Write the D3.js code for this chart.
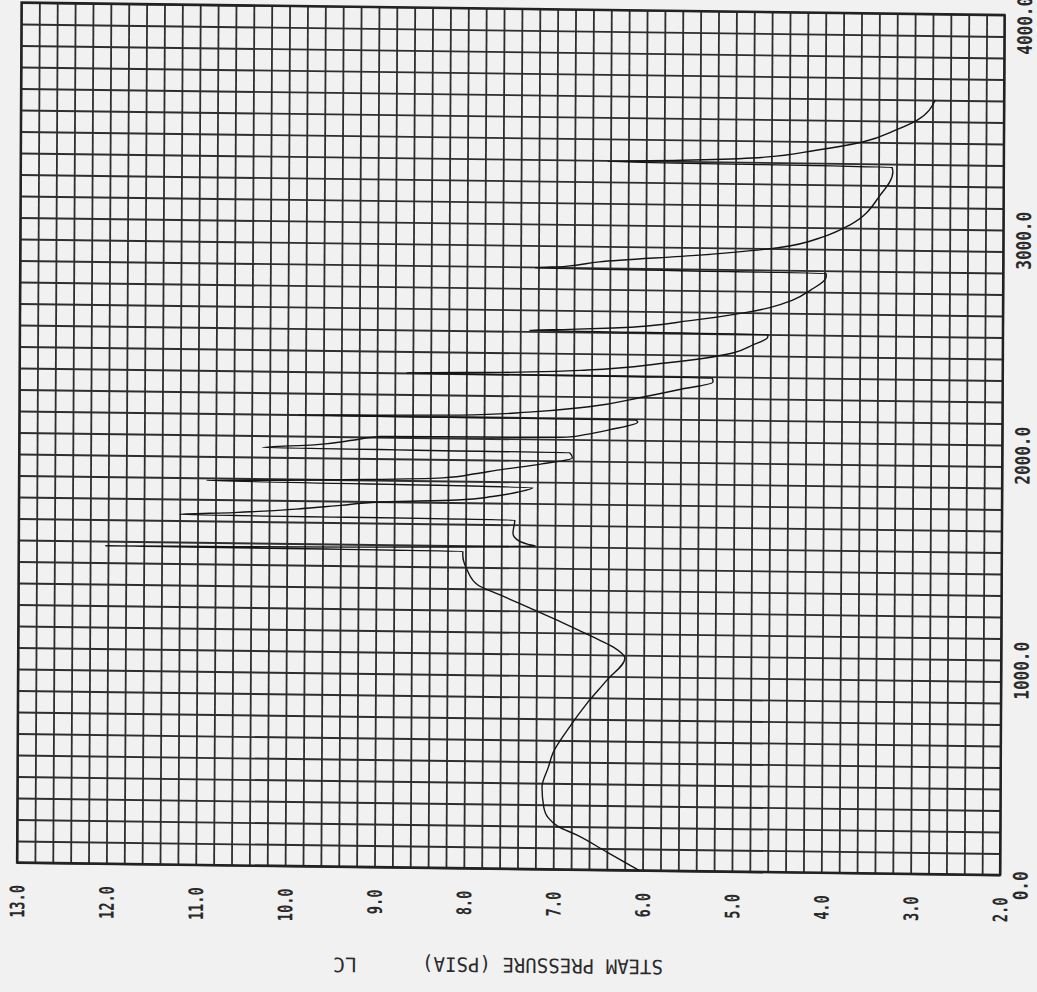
<!DOCTYPE html>
<html><head><meta charset="utf-8">
<script src="https://cdn.jsdelivr.net/npm/d3@7"></script>
<style>
html,body{margin:0;padding:0;background:#f1f1f1;}
svg{display:block;}
</style></head>
<body>
<svg id="chart" width="1037" height="992"></svg>
<script>
// Axis ticks and labels
const pressureTicks = [13, 12, 11, 10, 9, 8, 7, 6, 5, 4, 3, 2];
const pressureLabels = ["13.0","12.0","11.0","10.0","9.0","8.0","7.0","6.0","5.0","4.0","3.0","2.0"];
const timeTicks = [0, 1000, 2000, 3000, 4000];
const timeLabels = ["0.0","1000.0","2000.0","3000.0","4000.0"];
const axisTitle = "STEAM PRESSURE (PSIA)";
const caseTag = "LC";

// Series: time (s) and steam pressure (psia)
const timeSec = [
  0, 83, 161, 200, 240, 290, 382, 475, 541, 648, 775, 883, 987, 1037, 1083, 1146, 1214, 1273, 1318, 1387, 1456, 1474,
  1478, 1482, 1487, 1493, 1499, 1503, 1510, 1530, 1561, 1622,
  1628, 1640, 1660, 1680, 1698, 1712, 1730, 1752, 1774,
  1788, 1794, 1802, 1814, 1835, 1853, 1885, 1914, 1938,
  1944, 1960, 1985, 2003, 2006, 2011, 2025, 2047, 2085, 2094,
  2098, 2102, 2107, 2125, 2152, 2202, 2240, 2276, 2294,
  2300, 2308, 2316, 2324, 2360, 2412, 2450, 2488, 2500,
  2505, 2512, 2521, 2560, 2599, 2624, 2660, 2710, 2771, 2788,
  2795, 2805, 2828, 2865, 2904, 2960, 3014, 3155, 3263, 3285,
  3295, 3305, 3320, 3360, 3401, 3460, 3506, 3600
];
const steamPsia = [
  6.04, 6.40, 6.74, 6.95, 7.06, 7.11, 7.13, 7.06, 7.01, 6.85, 6.63, 6.41, 6.21, 6.34, 6.57, 6.90, 7.28, 7.61, 7.86, 7.98, 8.03, 8.03,
  12.03, 10.6, 9.2, 8.1, 7.45, 7.22, 7.30, 7.42, 7.47, 7.45,
  11.20, 10.6, 9.9, 9.4, 8.96, 8.1, 7.7, 7.42, 7.25,
  10.90, 10.0, 9.1, 8.26, 7.9, 7.65, 7.15, 6.81, 6.84,
  10.28, 9.7, 9.25, 8.96, 7.84, 6.87, 6.65, 6.40, 6.08, 6.10,
  9.88, 9.0, 8.07, 7.3, 6.65, 6.02, 5.6, 5.24, 5.25,
  8.67, 7.6, 7.0, 6.65, 5.8, 5.02, 4.8, 4.63, 4.63,
  7.30, 6.85, 6.36, 5.5, 4.90, 4.62, 4.36, 4.15, 3.98, 3.98,
  7.24, 6.9, 6.52, 5.4, 4.52, 4.0, 3.72, 3.38, 3.24, 3.25,
  6.43, 5.6, 4.81, 4.1, 3.58, 3.2, 2.97, 2.77
];

const W = 983, H = 860;
const svg = d3.select("#chart");
svg.append("rect").attr("width", 1037).attr("height", 992).attr("fill", "#f1f1f1");

// the scanned page is slightly skewed
const g = svg.append("g").attr("transform", "matrix(1,0.0127,-0.0052,1,21.5,2.5)");

const x = d3.scaleLinear().domain([13, 2]).range([0, W]);
const y = d3.scaleLinear().domain([0, 4000]).range([H, 0]);

// grid
g.append("g").attr("class", "grid").attr("transform", `translate(0,${H})`)
  .call(d3.axisBottom(x).ticks(55).tickSize(-H).tickFormat(""))
  .call(s => s.select(".domain").remove());
g.append("g").attr("class", "grid")
  .call(d3.axisLeft(y).ticks(40).tickSize(-W).tickFormat(""))
  .call(s => s.select(".domain").remove());
g.selectAll(".grid line").attr("stroke", "#2e2e2e").attr("stroke-width", 1.8);

// frame
g.append("rect").attr("width", W).attr("height", H)
  .attr("fill", "none").attr("stroke", "#222").attr("stroke-width", 2.3);

// data
const pts = timeSec.map((t, i) => [t, steamPsia[i]]);
const line = d3.line().x(d => x(d[1])).y(d => y(d[0])).curve(d3.curveMonotoneY);
g.append("path").datum(pts).attr("d", line)
  .attr("fill", "none").attr("stroke", "#141414").attr("stroke-width", 1.4)
  .attr("stroke-linejoin", "round");

// pressure axis (bottom)
const pAxis = g.append("g").attr("transform", `translate(0,${H})`)
  .call(d3.axisBottom(x).tickValues(pressureTicks)
    .tickFormat(d => pressureLabels[pressureTicks.indexOf(d)]).tickSize(0).tickPadding(0));
pAxis.select(".domain").remove();
pAxis.selectAll("text")
  .attr("y", 0).attr("dy", 0).attr("text-anchor", "end")
  .attr("transform", "translate(7,22.5) rotate(-90) scale(0.68,1)")
  .attr("font-family", "DejaVu Sans Mono").attr("font-weight", "bold")
  .attr("font-size", 20).attr("fill", "#2a2a2a");

// time axis (right)
const tAxis = g.append("g").attr("transform", `translate(${W},0)`)
  .call(d3.axisRight(y).tickValues(timeTicks)
    .tickFormat(d => timeLabels[timeTicks.indexOf(d)]).tickSize(0).tickPadding(0));
tAxis.select(".domain").remove();
tAxis.selectAll("text")
  .attr("x", 0).attr("dy", 0).attr("text-anchor", "middle")
  .attr("transform", "translate(27.5,10) rotate(-90) scale(0.8,1)")
  .attr("font-family", "DejaVu Sans Mono").attr("font-weight", "bold")
  .attr("font-size", 20).attr("fill", "#2a2a2a");

// axis title (upside down)
g.append("text").text(axisTitle)
  .attr("transform", "translate(646.5,949.3) rotate(180)")
  .attr("text-anchor", "start").attr("textLength", 241).attr("lengthAdjust", "spacingAndGlyphs")
  .attr("font-family", "DejaVu Sans Mono").attr("font-size", 20).attr("fill", "#2a2a2a");
g.append("text").text(caseTag)
  .attr("transform", "translate(340.5,951) rotate(180)")
  .attr("text-anchor", "start").attr("textLength", 24).attr("lengthAdjust", "spacingAndGlyphs")
  .attr("font-family", "DejaVu Sans Mono").attr("font-size", 20).attr("fill", "#2a2a2a");
</script>
</body></html>
